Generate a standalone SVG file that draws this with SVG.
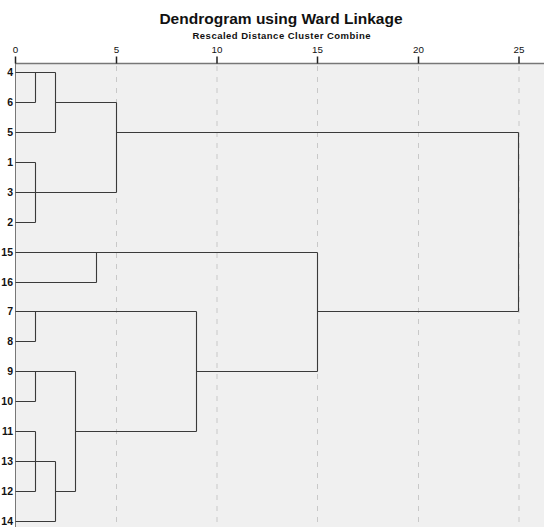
<svg xmlns="http://www.w3.org/2000/svg" width="544" height="527" viewBox="0 0 544 527">
<style>
.title{font-family:"Liberation Sans",Arial,sans-serif;font-weight:bold;fill:#111}
.tick{font-family:"Liberation Sans",Arial,sans-serif;font-size:9.8px;fill:#111;text-anchor:middle}
.leaf{font-family:"Liberation Sans",Arial,sans-serif;font-size:10.5px;font-weight:bold;fill:#111;text-anchor:end}
.grid{stroke:#c8c8c8;stroke-width:1;stroke-dasharray:5 6;fill:none}
.link{stroke:#3a3a3a;stroke-width:1.1;fill:none}
.axis{stroke:#777;stroke-width:1.5;fill:none}
.tk{stroke:#222;stroke-width:1.5}
</style>
<rect x="0" y="0" width="544" height="527" fill="#ffffff"/>
<rect x="15" y="63.5" width="529" height="463.5" fill="#f0f0f0"/>
<text class="title" x="281" y="24" font-size="15.5" text-anchor="middle">Dendrogram using Ward Linkage</text>
<text class="title" x="281.5" y="38.7" font-size="9.5" text-anchor="middle" textLength="178" lengthAdjust="spacing">Rescaled Distance Cluster Combine</text>
<g id="grid">
<path class="grid" d="M116.5 66V527M217 66V527M317.5 66V527M418.5 66V527M519 66V527"/>
</g>
<g id="axis">
<path class="axis" d="M15 63.5H544"/>
<path stroke="#777" stroke-width="1" d="M15.5 63V527"/>
<path class="tk" d="M15.5 56.5V63.5M116.5 56.5V63.5M217 56.5V63.5M317.5 56.5V63.5M418.5 56.5V63.5M519 56.5V63.5"/>
<text class="tick" x="15.5" y="52.7">0</text>
<text class="tick" x="116.5" y="52.7">5</text>
<text class="tick" x="217" y="52.7">10</text>
<text class="tick" x="317.5" y="52.7">15</text>
<text class="tick" x="418.5" y="52.7">20</text>
<text class="tick" x="519" y="52.7">25</text>
</g>
<g id="leaf-4"><text class="leaf" x="13" y="76.3">4</text></g>
<g id="leaf-6"><text class="leaf" x="13" y="106.3">6</text></g>
<g id="leaf-5"><text class="leaf" x="13" y="136.3">5</text></g>
<g id="leaf-1"><text class="leaf" x="13" y="166.3">1</text></g>
<g id="leaf-3"><text class="leaf" x="13" y="196.3">3</text></g>
<g id="leaf-2"><text class="leaf" x="13" y="226">2</text></g>
<g id="leaf-15"><text class="leaf" x="13" y="256">15</text></g>
<g id="leaf-16"><text class="leaf" x="13" y="286">16</text></g>
<g id="leaf-7"><text class="leaf" x="13" y="315">7</text></g>
<g id="leaf-8"><text class="leaf" x="13" y="345">8</text></g>
<g id="leaf-9"><text class="leaf" x="13" y="375">9</text></g>
<g id="leaf-10"><text class="leaf" x="13" y="405">10</text></g>
<g id="leaf-11"><text class="leaf" x="13" y="435">11</text></g>
<g id="leaf-13"><text class="leaf" x="13" y="465">13</text></g>
<g id="leaf-12"><text class="leaf" x="13" y="494.5">12</text></g>
<g id="leaf-14"><text class="leaf" x="13" y="524.5">14</text></g>
<g id="connectors">
<path class="link" d="M15.5 72.5H55.5M15.5 102.5H35.5M35.5 72.5V102.5M15.5 132.5H55.5M55.5 72.5V132.5M55.5 102.5H116.5"/>
<path class="link" d="M15.5 162.5H35.5M15.5 222.5H35.5M35.5 162.5V222.5M15.5 192.5H116.5M116.5 102.5V192.5M116.5 132.5H518.5M518.5 132.5V311.5"/>
<path class="link" d="M15.5 252.5H317.5M15.5 282.5H96.5M96.5 252.5V282.5"/>
<path class="link" d="M15.5 311.5H196.5M15.5 341.5H35.5M35.5 311.5V341.5"/>
<path class="link" d="M15.5 371.5H75.5M15.5 401.5H35.5M35.5 371.5V401.5"/>
<path class="link" d="M15.5 431.5H35.5M15.5 491.5H35.5M35.5 431.5V491.5M15.5 461.5H55.5M15.5 521.5H55.5M55.5 461.5V521.5M55.5 491.5H75.5M75.5 371.5V491.5"/>
<path class="link" d="M75.5 431.5H196.5M196.5 311.5V431.5M196.5 371.5H317.5M317.5 252.5V371.5M317.5 311.5H518.5"/>
</g>
</svg>
